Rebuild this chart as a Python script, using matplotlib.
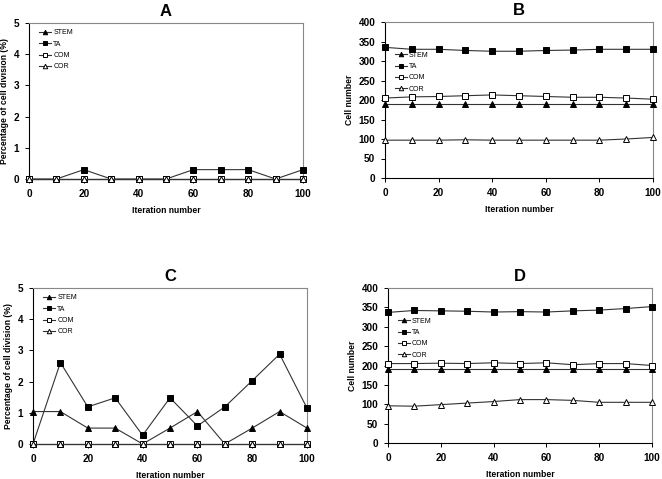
import matplotlib
matplotlib.use("Agg")
import matplotlib.pyplot as plt

plt.rcParams["font.family"] = ["Liberation Sans", "DejaVu Sans"]

iterations = [0, 10, 20, 30, 40, 50, 60, 70, 80, 90, 100]
series_names = ["STEM", "TA", "COM", "COR"]

# A: percentage of cell division
a_stem = [0, 0, 0, 0, 0, 0, 0, 0, 0, 0, 0]
a_ta = [0, 0, 0.3, 0, 0, 0, 0.3, 0.3, 0.3, 0, 0.3]
a_com = [0, 0, 0, 0, 0, 0, 0, 0, 0, 0, 0]
a_cor = [0, 0, 0, 0, 0, 0, 0, 0, 0, 0, 0]

# B: cell number
b_stem = [190, 190, 190, 190, 190, 190, 190, 190, 190, 190, 190]
b_ta = [335, 330, 330, 327, 325, 325, 327, 328, 330, 330, 330]
b_com = [205, 208, 209, 211, 213, 211, 209, 207, 207, 205, 202]
b_cor = [97, 97, 97, 98, 97, 97, 97, 97, 97, 100, 104]

# C: percentage of cell division
c_stem = [1.04, 1.04, 0.51, 0.51, 0, 0.51, 1.04, 0, 0.51, 1.04, 0.51]
c_ta = [0, 2.61, 1.19, 1.48, 0.28, 1.48, 0.58, 1.19, 2.03, 2.88, 1.15]
c_com = [0, 0, 0, 0, 0, 0, 0, 0, 0, 0, 0]
c_cor = [0, 0, 0, 0, 0, 0, 0, 0, 0, 0, 0]

# D: cell number
d_stem = [190, 190, 190, 190, 190, 190, 190, 190, 190, 190, 190]
d_ta = [337, 342, 341, 340, 338, 339, 338, 341, 343, 347, 352]
d_com = [205, 205, 206, 205, 207, 205, 207, 202, 205, 205, 200]
d_cor = [96, 95, 99, 103, 107, 112, 112, 110, 105, 105, 105]

styles = {
    "STEM": dict(marker="^", mfc="black"),
    "TA": dict(marker="s", mfc="black"),
    "COM": dict(marker="s", mfc="white"),
    "COR": dict(marker="^", mfc="white"),
}


def panel(fig, rect, title, data, ylim, yticks, ylabel, leg_anchor):
    ax = fig.add_axes(rect)
    for name, vals in zip(series_names, data):
        st = styles[name]
        ax.plot(iterations, vals, color="#333333", lw=0.8, marker=st["marker"],
                ms=3.8, mfc=st["mfc"], mec="black", mew=0.7, label=name,
                clip_on=False, zorder=3)
    ax.set_xlim(0, 100)
    ax.set_ylim(*ylim)
    ax.set_xticks([0, 20, 40, 60, 80, 100])
    ax.set_yticks(yticks)
    for lab in ax.get_xticklabels() + ax.get_yticklabels():
        lab.set_fontweight("bold")
        lab.set_fontsize(7.2)
    ax.tick_params(direction="out", length=3, width=0.7, pad=4)
    ax.spines["left"].set_color("black")
    ax.spines["bottom"].set_color("black")
    ax.spines["top"].set_color("#888888")
    ax.spines["right"].set_color("#888888")
    for s in ax.spines.values():
        s.set_linewidth(0.8)
    ax.set_xlabel("Iteration number", fontsize=6.2, fontweight="bold", labelpad=5)
    ax.set_ylabel(ylabel, fontsize=6.2, fontweight="bold", labelpad=3)
    ax.set_title(title, fontsize=12, fontweight="bold", pad=5)
    ax.legend(loc="upper left", bbox_to_anchor=leg_anchor, frameon=False,
              fontsize=5, handlelength=1.7, handletextpad=0.3,
              labelspacing=0.62, markerscale=0.85, borderaxespad=0.3)
    return ax


def main() -> None:
    W, H = 662, 479
    fig = plt.figure(figsize=(W / 100, H / 100), dpi=100)

    def rect(l, r, t, b):
        return [l / W, 1 - b / H, (r - l) / W, (b - t) / H]

    panel(fig, rect(29, 303, 23, 179), "A", [a_stem, a_ta, a_com, a_cor],
          (0, 5), [0, 1, 2, 3, 4, 5], "Percentage of cell division (%)", (0.02, 0.99))
    panel(fig, rect(385, 653, 22, 178), "B", [b_stem, b_ta, b_com, b_cor],
          (0, 400), list(range(0, 401, 50)), "Cell number", (0.02, 0.84))
    panel(fig, rect(33, 307, 288, 444), "C", [c_stem, c_ta, c_com, c_cor],
          (0, 5), [0, 1, 2, 3, 4, 5], "Percentage of cell division (%)", (0.02, 0.99))
    panel(fig, rect(388, 652, 288, 443), "D", [d_stem, d_ta, d_com, d_cor],
          (0, 400), list(range(0, 401, 50)), "Cell number", (0.02, 0.84))

    fig.savefig("out.png", dpi=100)
    plt.close(fig)


if __name__ == "__main__":
    main()
